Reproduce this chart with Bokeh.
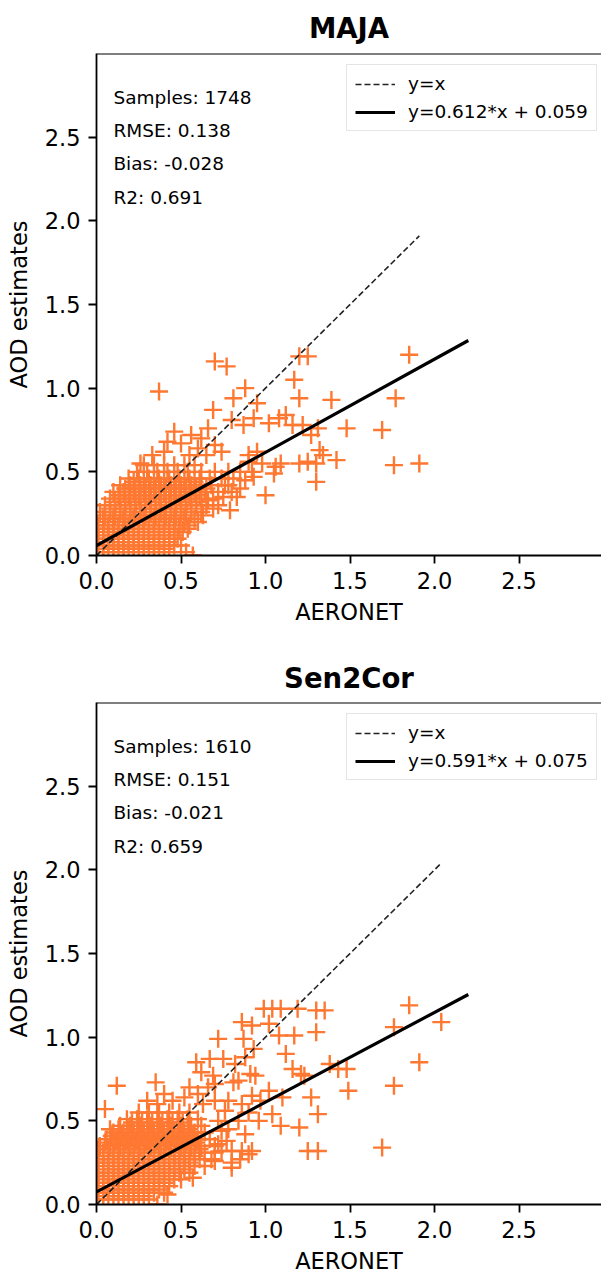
from bokeh.plotting import figure
from bokeh.layouts import column
from bokeh.models import FixedTicker, PrintfTickFormatter, Span, Legend, LegendItem, Range1d
from bokeh.core.properties import value
from bokeh.embed import file_html
from bokeh.resources import INLINE

FONT = "DejaVu Sans"
ORANGE = "#ff7832"

ticks = [0.0, 0.5, 1.0, 1.5, 2.0, 2.5]

# ---------------- MAJA ----------------
maja_aeronet = [
    0.01, 0.07, 0.13, 0.19, 0.25, 0.31, 0.37, 0.43,
    0.04, 0.10, 0.16, 0.22, 0.28, 0.34, 0.40, 0.46,
    0.01, 0.07, 0.13, 0.19, 0.25, 0.31, 0.37, 0.43, 0.48,
    0.04, 0.10, 0.16, 0.22, 0.28, 0.34, 0.40, 0.46, 0.51,
    0.01, 0.07, 0.13, 0.19, 0.25, 0.31, 0.37, 0.43, 0.49, 0.55,
    0.04, 0.10, 0.16, 0.22, 0.28, 0.34, 0.40, 0.46, 0.52, 0.58,
    0.02, 0.08, 0.14, 0.20, 0.26, 0.32, 0.38, 0.44, 0.50, 0.56, 0.62,
    0.05, 0.11, 0.17, 0.23, 0.29, 0.35, 0.41, 0.47, 0.53, 0.59, 0.65,
    0.08, 0.14, 0.20, 0.26, 0.32, 0.38, 0.44, 0.50, 0.56, 0.62, 0.69,
    0.10, 0.16, 0.22, 0.28, 0.34, 0.40, 0.46, 0.52, 0.58, 0.64, 0.72,
    0.14, 0.20, 0.26, 0.32, 0.38, 0.44, 0.50, 0.56, 0.62, 0.68, 0.76,
    0.19, 0.25, 0.31, 0.37, 0.43, 0.49, 0.55, 0.61, 0.67, 0.74, 0.81,
    0.24, 0.30, 0.36, 0.42, 0.48, 0.54, 0.62, 0.70, 0.78, 0.85,
    0.28, 0.34, 0.40, 0.46, 0.52, 0.58,
    0.26, 0.33, 0.40, 0.46, 0.50, 0.56, 0.60, 0.42, 0.55, 0.65,
    0.62, 0.66, 0.70, 0.74, 0.69, 0.80, 0.87, 0.93, 0.81, 0.88,
    0.95, 0.37, 0.70, 0.77, 1.20, 1.25, 1.17, 1.20, 1.39, 1.77,
    1.85, 1.48, 1.69, 1.31, 1.27, 1.12, 1.08, 1.02, 1.16, 1.22,
    1.32, 1.42, 1.76, 1.91, 1.30, 1.30, 1.20, 1.09, 1.05, 1.00,
    1.34, 1.25, 0.79, 0.69, 0.53, 0.50, 0.54, 0.60, 0.72, 0.75,
    0.90, 0.95, 0.98, 0.88, 0.85, 0.80, 0.92, 0.57, 1.06, 0.90,
    0.93, 0.78, 0.83, 0.63, 0.66,
]
maja_estimates = [
    0.02, 0.02, 0.02, 0.02, 0.02, 0.02, 0.02, 0.02,
    0.06, 0.06, 0.06, 0.06, 0.06, 0.06, 0.06, 0.06,
    0.10, 0.10, 0.10, 0.10, 0.10, 0.10, 0.10, 0.10, 0.10,
    0.14, 0.14, 0.14, 0.14, 0.14, 0.14, 0.14, 0.14, 0.14,
    0.18, 0.18, 0.18, 0.18, 0.18, 0.18, 0.18, 0.18, 0.18, 0.18,
    0.22, 0.22, 0.22, 0.22, 0.22, 0.22, 0.22, 0.22, 0.22, 0.22,
    0.26, 0.26, 0.26, 0.26, 0.26, 0.26, 0.26, 0.26, 0.26, 0.26, 0.26,
    0.30, 0.30, 0.30, 0.30, 0.30, 0.30, 0.30, 0.30, 0.30, 0.30, 0.30,
    0.34, 0.34, 0.34, 0.34, 0.34, 0.34, 0.34, 0.34, 0.34, 0.34, 0.34,
    0.38, 0.38, 0.38, 0.38, 0.38, 0.38, 0.38, 0.38, 0.38, 0.38, 0.38,
    0.42, 0.42, 0.42, 0.42, 0.42, 0.42, 0.42, 0.42, 0.42, 0.42, 0.42,
    0.46, 0.46, 0.46, 0.46, 0.46, 0.46, 0.46, 0.46, 0.46, 0.46, 0.46,
    0.50, 0.50, 0.50, 0.50, 0.50, 0.50, 0.50, 0.50, 0.50, 0.50,
    0.54, 0.54, 0.54, 0.54, 0.54, 0.54,
    0.55, 0.60, 0.62, 0.74, 0.67, 0.72, 0.64, 0.68, 0.60, 0.60,
    0.70, 0.76, 0.66, 0.62, 0.87, 0.81, 0.78, 0.82, 0.94, 1.00,
    0.91, 0.98, 1.16, 1.13, 1.19, 1.19, 1.05, 0.94, 0.93, 0.94,
    1.20, 0.76, 0.75, 0.76, 0.72, 0.84, 0.82, 0.79, 0.78, 0.78,
    0.63, 0.57, 0.54, 0.55, 0.55, 0.44, 0.55, 0.55, 0.49, 0.36,
    0.60, 0.56, 0.27, 0.28, 0.02, 0.06, 0.16, 0.20, 0.30, 0.35,
    0.56, 0.62, 0.55, 0.45, 0.40, 0.38, 0.50, 0.00, 0.53, 0.60,
    0.47, 0.42, 0.35, 0.24, 0.33,
]
# the solid core of the MAJA cloud (points between the rows above)
maja_core_aeronet = [
    0.04, 0.10, 0.16, 0.22, 0.28, 0.34, 0.40,
    0.01, 0.07, 0.13, 0.19, 0.25, 0.31, 0.37, 0.43,
    0.04, 0.10, 0.16, 0.22, 0.28, 0.34, 0.40, 0.46,
    0.01, 0.07, 0.13, 0.19, 0.25, 0.31, 0.37, 0.43, 0.49,
    0.04, 0.10, 0.16, 0.22, 0.28, 0.34, 0.40, 0.46, 0.52,
    0.05, 0.11, 0.17, 0.23, 0.29, 0.35, 0.41, 0.47, 0.53,
    0.08, 0.14, 0.20, 0.26, 0.32, 0.38, 0.44, 0.50, 0.56,
    0.11, 0.17, 0.23, 0.29, 0.35, 0.41, 0.47, 0.53, 0.59,
    0.13, 0.19, 0.25, 0.31, 0.37, 0.43, 0.49, 0.55, 0.61,
    0.17, 0.23, 0.29, 0.35, 0.41, 0.47, 0.53, 0.59, 0.65,
    0.22, 0.28, 0.34, 0.40, 0.46, 0.52, 0.58,
]
maja_core_estimates = [
    0.04, 0.04, 0.04, 0.04, 0.04, 0.04, 0.04,
    0.08, 0.08, 0.08, 0.08, 0.08, 0.08, 0.08, 0.08,
    0.12, 0.12, 0.12, 0.12, 0.12, 0.12, 0.12, 0.12,
    0.16, 0.16, 0.16, 0.16, 0.16, 0.16, 0.16, 0.16, 0.16,
    0.20, 0.20, 0.20, 0.20, 0.20, 0.20, 0.20, 0.20, 0.20,
    0.24, 0.24, 0.24, 0.24, 0.24, 0.24, 0.24, 0.24, 0.24,
    0.28, 0.28, 0.28, 0.28, 0.28, 0.28, 0.28, 0.28, 0.28,
    0.32, 0.32, 0.32, 0.32, 0.32, 0.32, 0.32, 0.32, 0.32,
    0.36, 0.36, 0.36, 0.36, 0.36, 0.36, 0.36, 0.36, 0.36,
    0.40, 0.40, 0.40, 0.40, 0.40, 0.40, 0.40, 0.40, 0.40,
    0.44, 0.44, 0.44, 0.44, 0.44, 0.44, 0.44,
]
maja_label = "y=0.612*x + 0.059"
maja_fit_x = [0.0, 2.2]
maja_fit_y = [0.059, 1.285]
maja_stats = ["Samples: 1748", "RMSE: 0.138", "Bias: -0.028", "R2: 0.691"]

# ---------------- Sen2Cor ----------------
s2c_aeronet = [
    0.01, 0.07, 0.13, 0.19, 0.25, 0.31,
    0.04, 0.10, 0.16, 0.22, 0.28, 0.34, 0.40,
    0.01, 0.07, 0.13, 0.19, 0.25, 0.31, 0.37, 0.43,
    0.04, 0.10, 0.16, 0.22, 0.28, 0.34, 0.40, 0.46, 0.50,
    0.01, 0.07, 0.13, 0.19, 0.25, 0.31, 0.37, 0.43, 0.49, 0.55,
    0.04, 0.10, 0.16, 0.22, 0.28, 0.34, 0.40, 0.46, 0.52, 0.58, 0.64,
    0.01, 0.07, 0.13, 0.19, 0.25, 0.31, 0.37, 0.43, 0.49, 0.55, 0.61, 0.68,
    0.04, 0.10, 0.16, 0.22, 0.28, 0.34, 0.40, 0.46, 0.52, 0.58, 0.64, 0.70,
    0.02, 0.08, 0.14, 0.20, 0.26, 0.32, 0.38, 0.44, 0.50, 0.56, 0.62, 0.70,
    0.06, 0.12, 0.18, 0.24, 0.30, 0.36, 0.42, 0.48, 0.54, 0.60, 0.67,
    0.10, 0.16, 0.22, 0.28, 0.34, 0.40, 0.46, 0.52, 0.58, 0.64,
    0.14, 0.20, 0.26, 0.32, 0.38, 0.44, 0.50, 0.56, 0.62,
    0.18, 0.24, 0.30, 0.36, 0.42, 0.48, 0.54, 0.60,
    0.25, 0.31, 0.37, 0.43, 0.49, 0.55,
    0.12, 0.35, 0.05, 0.08, 0.42, 0.80, 0.77, 0.74, 0.80, 0.86,
    0.92, 0.36, 0.59, 0.67, 0.75, 0.82, 0.62, 0.69, 0.81, 0.91,
    0.94, 0.72, 0.87, 0.86, 0.92, 1.02, 0.99, 1.04, 1.09, 1.19,
    1.30, 1.35, 1.08, 1.17, 1.30, 0.93, 1.12, 0.88, 1.16, 1.21,
    1.23, 1.38, 1.43, 1.48, 1.49, 1.27, 1.31, 1.20, 1.04, 1.09,
    1.02, 0.97, 1.10, 1.25, 1.31, 1.85, 2.04, 1.76, 1.91, 1.76,
    1.69, 0.55, 0.60, 0.66, 0.63, 0.70, 0.52, 0.45, 0.40, 0.36,
    0.30, 0.76, 0.72, 0.78, 0.84, 0.90, 0.96, 0.88, 0.74, 0.78,
    0.86, 0.92, 0.84, 0.70, 0.72, 0.85, 0.90, 0.80, 0.70, 0.57,
]
s2c_estimates = [
    0.03, 0.03, 0.03, 0.03, 0.03, 0.03,
    0.07, 0.07, 0.07, 0.07, 0.07, 0.07, 0.07,
    0.11, 0.11, 0.11, 0.11, 0.11, 0.11, 0.11, 0.11,
    0.15, 0.15, 0.15, 0.15, 0.15, 0.15, 0.15, 0.15, 0.15,
    0.19, 0.19, 0.19, 0.19, 0.19, 0.19, 0.19, 0.19, 0.19, 0.19,
    0.23, 0.23, 0.23, 0.23, 0.23, 0.23, 0.23, 0.23, 0.23, 0.23, 0.23,
    0.27, 0.27, 0.27, 0.27, 0.27, 0.27, 0.27, 0.27, 0.27, 0.27, 0.27, 0.27,
    0.31, 0.31, 0.31, 0.31, 0.31, 0.31, 0.31, 0.31, 0.31, 0.31, 0.31, 0.31,
    0.35, 0.35, 0.35, 0.35, 0.35, 0.35, 0.35, 0.35, 0.35, 0.35, 0.35, 0.35,
    0.39, 0.39, 0.39, 0.39, 0.39, 0.39, 0.39, 0.39, 0.39, 0.39, 0.39,
    0.43, 0.43, 0.43, 0.43, 0.43, 0.43, 0.43, 0.43, 0.43, 0.43,
    0.47, 0.47, 0.47, 0.47, 0.47, 0.47, 0.47, 0.47, 0.47,
    0.51, 0.51, 0.51, 0.51, 0.51, 0.51, 0.51, 0.51,
    0.55, 0.55, 0.55, 0.55, 0.55, 0.55,
    0.71, 0.73, 0.57, 0.45, 0.06, 0.22, 0.38, 0.32, 0.32, 0.32,
    0.32, 0.00, 0.85, 0.87, 0.87, 0.84, 0.79, 0.77, 0.73, 0.78,
    0.77, 0.99, 0.99, 1.09, 1.07, 1.08, 1.17, 1.17, 1.17, 1.17,
    1.16, 1.16, 1.01, 1.01, 1.03, 0.93, 0.90, 0.88, 0.81, 0.78,
    0.77, 0.84, 0.81, 0.81, 0.68, 0.64, 0.54, 0.46, 0.54, 0.47,
    0.68, 0.62, 0.64, 0.32, 0.32, 1.19, 1.09, 1.06, 0.85, 0.71,
    0.34, 0.70, 0.66, 0.70, 0.60, 0.62, 0.64, 0.62, 0.66, 0.60,
    0.62, 0.56, 0.50, 0.45, 0.50, 0.55, 0.50, 0.42, 0.44, 0.62,
    0.60, 0.65, 0.74, 0.72, 0.36, 0.27, 0.30, 0.25, 0.26, 0.16,
]
# the solid core of the Sen2Cor cloud
s2c_core_aeronet = [
    0.04, 0.10, 0.16, 0.22, 0.28,
    0.01, 0.07, 0.13, 0.19, 0.25, 0.31, 0.37,
    0.04, 0.10, 0.16, 0.22, 0.28, 0.34, 0.40,
    0.01, 0.07, 0.13, 0.19, 0.25, 0.31, 0.37, 0.43,
    0.04, 0.10, 0.16, 0.22, 0.28, 0.34, 0.40, 0.46, 0.52,
    0.01, 0.07, 0.13, 0.19, 0.25, 0.31, 0.37, 0.43, 0.49, 0.55,
    0.04, 0.10, 0.16, 0.22, 0.28, 0.34, 0.40, 0.46, 0.52, 0.58,
    0.01, 0.07, 0.13, 0.19, 0.25, 0.31, 0.37, 0.43, 0.49, 0.55, 0.61,
    0.05, 0.11, 0.17, 0.23, 0.29, 0.35, 0.41, 0.47, 0.53, 0.59,
    0.09, 0.15, 0.21, 0.27, 0.33, 0.39, 0.45, 0.51, 0.57,
    0.13, 0.19, 0.25, 0.31, 0.37, 0.43, 0.49, 0.55,
    0.21, 0.27, 0.33, 0.39, 0.45, 0.51,
]
s2c_core_estimates = [
    0.05, 0.05, 0.05, 0.05, 0.05,
    0.09, 0.09, 0.09, 0.09, 0.09, 0.09, 0.09,
    0.13, 0.13, 0.13, 0.13, 0.13, 0.13, 0.13,
    0.17, 0.17, 0.17, 0.17, 0.17, 0.17, 0.17, 0.17,
    0.21, 0.21, 0.21, 0.21, 0.21, 0.21, 0.21, 0.21, 0.21,
    0.25, 0.25, 0.25, 0.25, 0.25, 0.25, 0.25, 0.25, 0.25, 0.25,
    0.29, 0.29, 0.29, 0.29, 0.29, 0.29, 0.29, 0.29, 0.29, 0.29,
    0.33, 0.33, 0.33, 0.33, 0.33, 0.33, 0.33, 0.33, 0.33, 0.33, 0.33,
    0.37, 0.37, 0.37, 0.37, 0.37, 0.37, 0.37, 0.37, 0.37, 0.37,
    0.41, 0.41, 0.41, 0.41, 0.41, 0.41, 0.41, 0.41, 0.41,
    0.45, 0.45, 0.45, 0.45, 0.45, 0.45, 0.45, 0.45,
    0.49, 0.49, 0.49, 0.49, 0.49, 0.49,
]
s2c_label = "y=0.591*x + 0.075"
s2c_fit_x = [0.0, 2.2]
s2c_fit_y = [0.075, 1.255]
s2c_stats = ["Samples: 1610", "RMSE: 0.151", "Bias: -0.021", "R2: 0.659"]

stats_y = [2.74, 2.54, 2.34, 2.14]


def make_panel(title, xs, ys, fit_x, fit_y, fit_label, stats, height, border_bottom, title_standoff):
    p = figure(width=601, height=height,
               x_range=Range1d(0, 2.988), y_range=Range1d(0, 3.0),
               output_backend="svg", toolbar_location=None,
               min_border_left=96, min_border_right=0,
               min_border_top=48, min_border_bottom=border_bottom,
               title=title)
    p.background_fill_color = "white"
    p.border_fill_color = "white"
    p.outline_line_color = None
    p.xgrid.visible = False
    p.ygrid.visible = False

    p.title.text_font = FONT
    p.title.text_font_size = "27.5px"
    p.title.text_font_style = "bold"
    p.title.text_color = "black"
    p.title.align = "center"
    p.title.standoff = title_standoff

    for ax in (p.xaxis[0], p.yaxis[0]):
        ax.ticker = FixedTicker(ticks=ticks)
        ax.formatter = PrintfTickFormatter(format="%.1f")
        ax.major_label_text_font = FONT
        ax.major_label_text_font_size = "22.5px"
        ax.major_label_text_color = "black"
        ax.axis_label_text_font = FONT
        ax.axis_label_text_font_size = "22.5px"
        ax.axis_label_text_font_style = "normal"
        ax.axis_label_text_color = "black"
        ax.axis_line_color = "black"
        ax.axis_line_width = 1.8
        ax.major_tick_line_color = "black"
        ax.major_tick_line_width = 1.8
        ax.major_tick_out = 8
        ax.major_tick_in = 0
        ax.minor_tick_line_color = None
    p.xaxis.axis_label = "AERONET"
    p.yaxis.axis_label = "AOD estimates"
    p.xaxis.major_label_standoff = 8
    p.xaxis.axis_label_standoff = 7
    p.yaxis.major_label_standoff = 8
    p.yaxis.axis_label_standoff = 10

    # top spine
    p.add_layout(Span(location=3.0, dimension="width", line_color="black", line_width=1.8))

    p.scatter(x=xs, y=ys, marker="cross", size=18, line_color=ORANGE, line_width=2.4)

    yx_end = max(xs)
    r_dash = p.line(x=[0.0, yx_end], y=[0.0, yx_end], line_color="#222222",
                    line_width=1.6, line_dash="6 3")
    r_fit = p.line(x=fit_x, y=fit_y, line_color="black", line_width=3.2)

    p.text(x=[0.1] * len(stats), y=stats_y, text=stats,
           text_font=value(FONT), text_font_size="18.5px",
           text_baseline="alphabetic", text_align="left", text_color="black")

    legend = Legend(items=[
        LegendItem(label="y=x", renderers=[r_dash]),
        LegendItem(label=fit_label, renderers=[r_fit]),
    ], location=(250, 424))
    legend.label_text_font = FONT
    legend.label_text_font_size = "18.5px"
    legend.label_text_color = "black"
    legend.glyph_width = 40
    legend.glyph_height = 20
    legend.label_height = 20
    legend.label_standoff = 13
    legend.padding = 8
    legend.spacing = 7
    legend.margin = 0
    legend.border_line_color = "#cccccc"
    legend.border_line_width = 1.2
    legend.background_fill_color = "white"
    legend.background_fill_alpha = 0.8
    p.add_layout(legend)
    return p


p1 = make_panel("MAJA", maja_aeronet + maja_core_aeronet,
                maja_estimates + maja_core_estimates,
                maja_fit_x, maja_fit_y, maja_label, maja_stats, 651, 96, 19)
p2 = make_panel("Sen2Cor", s2c_aeronet + s2c_core_aeronet,
                s2c_estimates + s2c_core_estimates,
                s2c_fit_x, s2c_fit_y, s2c_label, s2c_stats, 625, 70, 17)

layout = column(p1, p2)
open("out.html", "w").write(file_html(layout, INLINE))
